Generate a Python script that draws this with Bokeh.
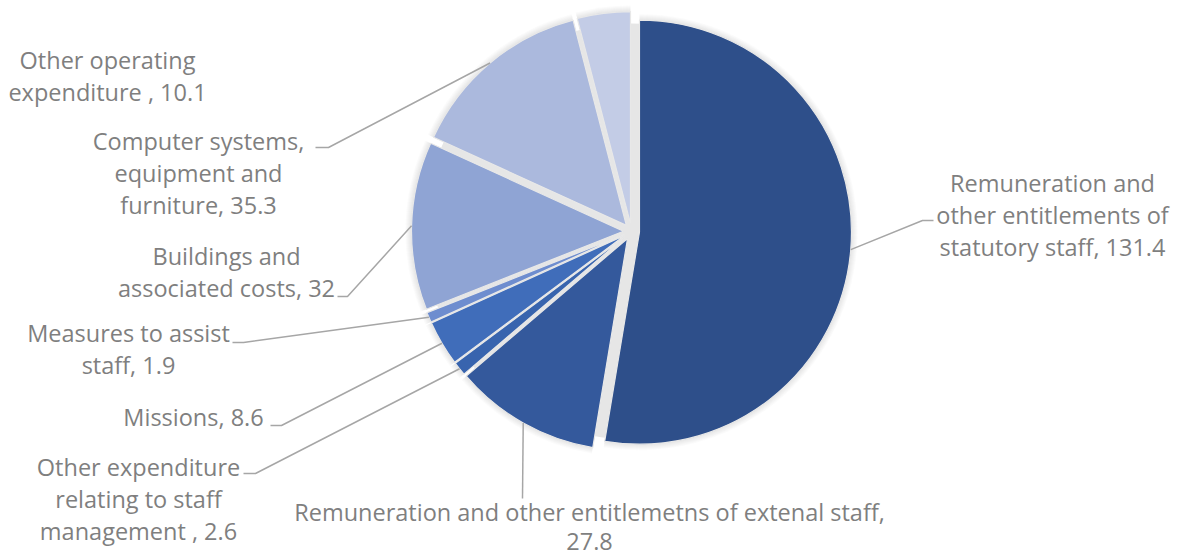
import numpy as np
from bokeh.plotting import figure
from bokeh.models import Range1d, ColumnDataSource
from bokeh.core.properties import value
from bokeh.embed import file_html
from bokeh.resources import INLINE

# ---------------- data ----------------
categories = [
    "Remuneration and other entitlements of statutory staff",
    "Remuneration and other entitlemetns of extenal staff",
    "Other expenditure relating to staff management ",
    "Missions",
    "Measures to assist staff",
    "Buildings and associated costs",
    "Computer systems, equipment and furniture",
    "Other operating expenditure ",
]
values = [131.4, 27.8, 2.6, 8.6, 1.9, 32, 35.3, 10.1]
label_templates = [
    "Remuneration and\nother entitlements of\nstatutory staff, {}",
    "Remuneration and other entitlemetns of extenal staff,\n{}",
    "Other expenditure\nrelating to staff\nmanagement , {}",
    "Missions, {}",
    "Measures to assist\nstaff, {}",
    "Buildings and\nassociated costs, {}",
    "Computer systems,\nequipment and\nfurniture, {}",
    "Other operating\nexpenditure , {}",
]
colors = ["#2E4F8A", "#34599C", "#3864AE", "#406DBA", "#6E8DCF",
          "#8FA4D4", "#ABB9DD", "#C3CCE6"]

# ---------------- layout ----------------
W, H = 1179, 560
CX, CY = 631, 231          # pie centre (page px)
R = 212                    # radius
EXPLODE = 8
label_cx = [1052, 589, 138, 193, 128, 226, 198, 107]
label_top = [182, 511, 466, 416, 332, 255, 140, 59]
label_lh = [32, 30, 32, 32, 32, 32, 32, 32]
# leader: (elbow_x, elbow_y, end_x) or None
leaders = [(922, 220, 933), (522, 498, 522), (255, 473, 243), (281, 425, 270),
           (243, 342, 232), (347, 296, 337), (328, 147, 315), None]
TEXT_COLOR = "#7F7F7F"
LEADER_COLOR = "#A6A6A6"
FONT = "Open Sans"
FONT_SIZE = "23.5px"

p = figure(width=W, height=H, output_backend="svg", toolbar_location=None,
           x_range=Range1d(0, W), y_range=Range1d(-H, 0),
           min_border=0)
p.axis.visible = False
p.grid.visible = False
p.outline_line_color = None
p.background_fill_color = "white"
p.border_fill_color = "white"

vals = np.array(values, dtype=float)
total = vals.sum()
cum = np.concatenate([[0], np.cumsum(vals)])
a0 = cum[:-1] / total * 2 * np.pi       # clockwise from top
a1 = cum[1:] / total * 2 * np.pi
mid = (a0 + a1) / 2
px = CX + EXPLODE * np.sin(mid)
py = -CY + EXPLODE * np.cos(mid)

src = ColumnDataSource(dict(
    x=px, y=py, start=np.pi / 2 - a1, end=np.pi / 2 - a0, color=colors,
    name=categories, val=values))

# soft shadow
for k in range(1, 7):
    p.wedge(x="x", y="y", radius=R + k, start_angle="start", end_angle="end",
            source=src, fill_color="#808080", fill_alpha=0.035, line_color=None)
# gap fill
p.circle(x=[CX], y=[-CY], radius=R - 4, fill_color="#E6E6E6", line_color=None)
p.wedge(x="x", y="y", radius=R, start_angle="start", end_angle="end",
        source=src, fill_color="color", line_color="#E8E8E8", line_width=1.2)

# leader lines
for i, ld in enumerate(leaders):
    if ld is None:
        continue
    sx = px[i] + R * np.sin(mid[i])
    sy = py[i] + R * np.cos(mid[i])
    ex, ey, tx = ld
    p.line(x=[sx, ex, tx], y=[sy, -ey, -ey], line_color=LEADER_COLOR,
           line_width=1.5)

# labels
tx, ty, tt = [], [], []
for i, tpl in enumerate(label_templates):
    lines = tpl.format(f"{values[i]:g}").split("\n")
    for j, ln in enumerate(lines):
        tx.append(label_cx[i])
        ty.append(-(label_top[i] + j * label_lh[i]))
        tt.append(ln)
p.text(x=tx, y=ty, text=tt, text_align="center", text_baseline="middle",
       text_color=TEXT_COLOR, text_font=value(FONT), text_font_size=FONT_SIZE)

open("out.html", "w").write(file_html(p, INLINE))
